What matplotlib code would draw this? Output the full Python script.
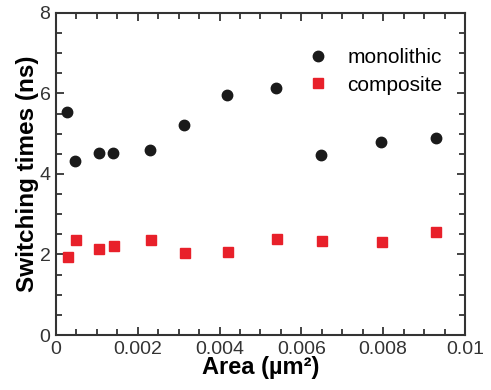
import matplotlib
matplotlib.use('Agg')
import matplotlib.pyplot as plt
from matplotlib.ticker import MultipleLocator

plt.rcParams['font.family'] = ['Liberation Sans', 'DejaVu Sans']

# area (um^2) and switching times (ns)
area_mono = [0.00028, 0.00047, 0.00104, 0.0014, 0.00231, 0.00314, 0.00419, 0.00538, 0.00649, 0.00795, 0.00928]
t_mono = [5.53, 4.32, 4.53, 4.51, 4.60, 5.21, 5.95, 6.14, 4.47, 4.80, 4.89]
area_comp = [0.00029, 0.00048, 0.00106, 0.00141, 0.00233, 0.00315, 0.0042, 0.0054, 0.0065, 0.00798, 0.0093]
t_comp = [1.93, 2.37, 2.14, 2.21, 2.37, 2.03, 2.06, 2.39, 2.34, 2.30, 2.55]

fig = plt.figure(figsize=(4.91, 3.9), dpi=100)
ax = fig.add_axes([0.114, 0.141, 0.833, 0.826])

ax.plot(area_mono, t_mono, 'o', color='#1a1a1a', markersize=7.5, label='monolithic')
ax.plot(area_comp, t_comp, 's', color='#e8202a', markersize=7.5, label='composite')

ax.set_xlim(0, 0.01)
ax.set_ylim(0, 8)
ax.set_xticks([0, 0.002, 0.004, 0.006, 0.008, 0.01])
ax.set_xticklabels(['0', '0.002', '0.004', '0.006', '0.008', '0.01'])
ax.set_yticks([0, 2, 4, 6, 8])
ax.xaxis.set_minor_locator(MultipleLocator(0.0005))
ax.yaxis.set_minor_locator(MultipleLocator(0.5))
ax.tick_params(which='both', direction='in', top=True, right=True, width=1.2, colors='#222222',
               labelsize=14, labelcolor='#333333')
ax.tick_params(which='major', length=6, pad=4)
ax.tick_params(which='minor', length=4)
for s in ax.spines.values():
    s.set_linewidth(1.5)
    s.set_color('#333333')

ax.set_xlabel('Area (µm²)', fontsize=17, fontweight='bold', labelpad=-1)
ax.set_ylabel('Switching times (ns)', fontsize=17.5, fontweight='bold', labelpad=0)

ax.legend(loc='upper right', frameon=False, fontsize=15, handlelength=1.0, handletextpad=0.9,
          bbox_to_anchor=(0.98, 0.935), borderaxespad=0.3, labelspacing=0.4)

fig.savefig('out.png', dpi=100)
